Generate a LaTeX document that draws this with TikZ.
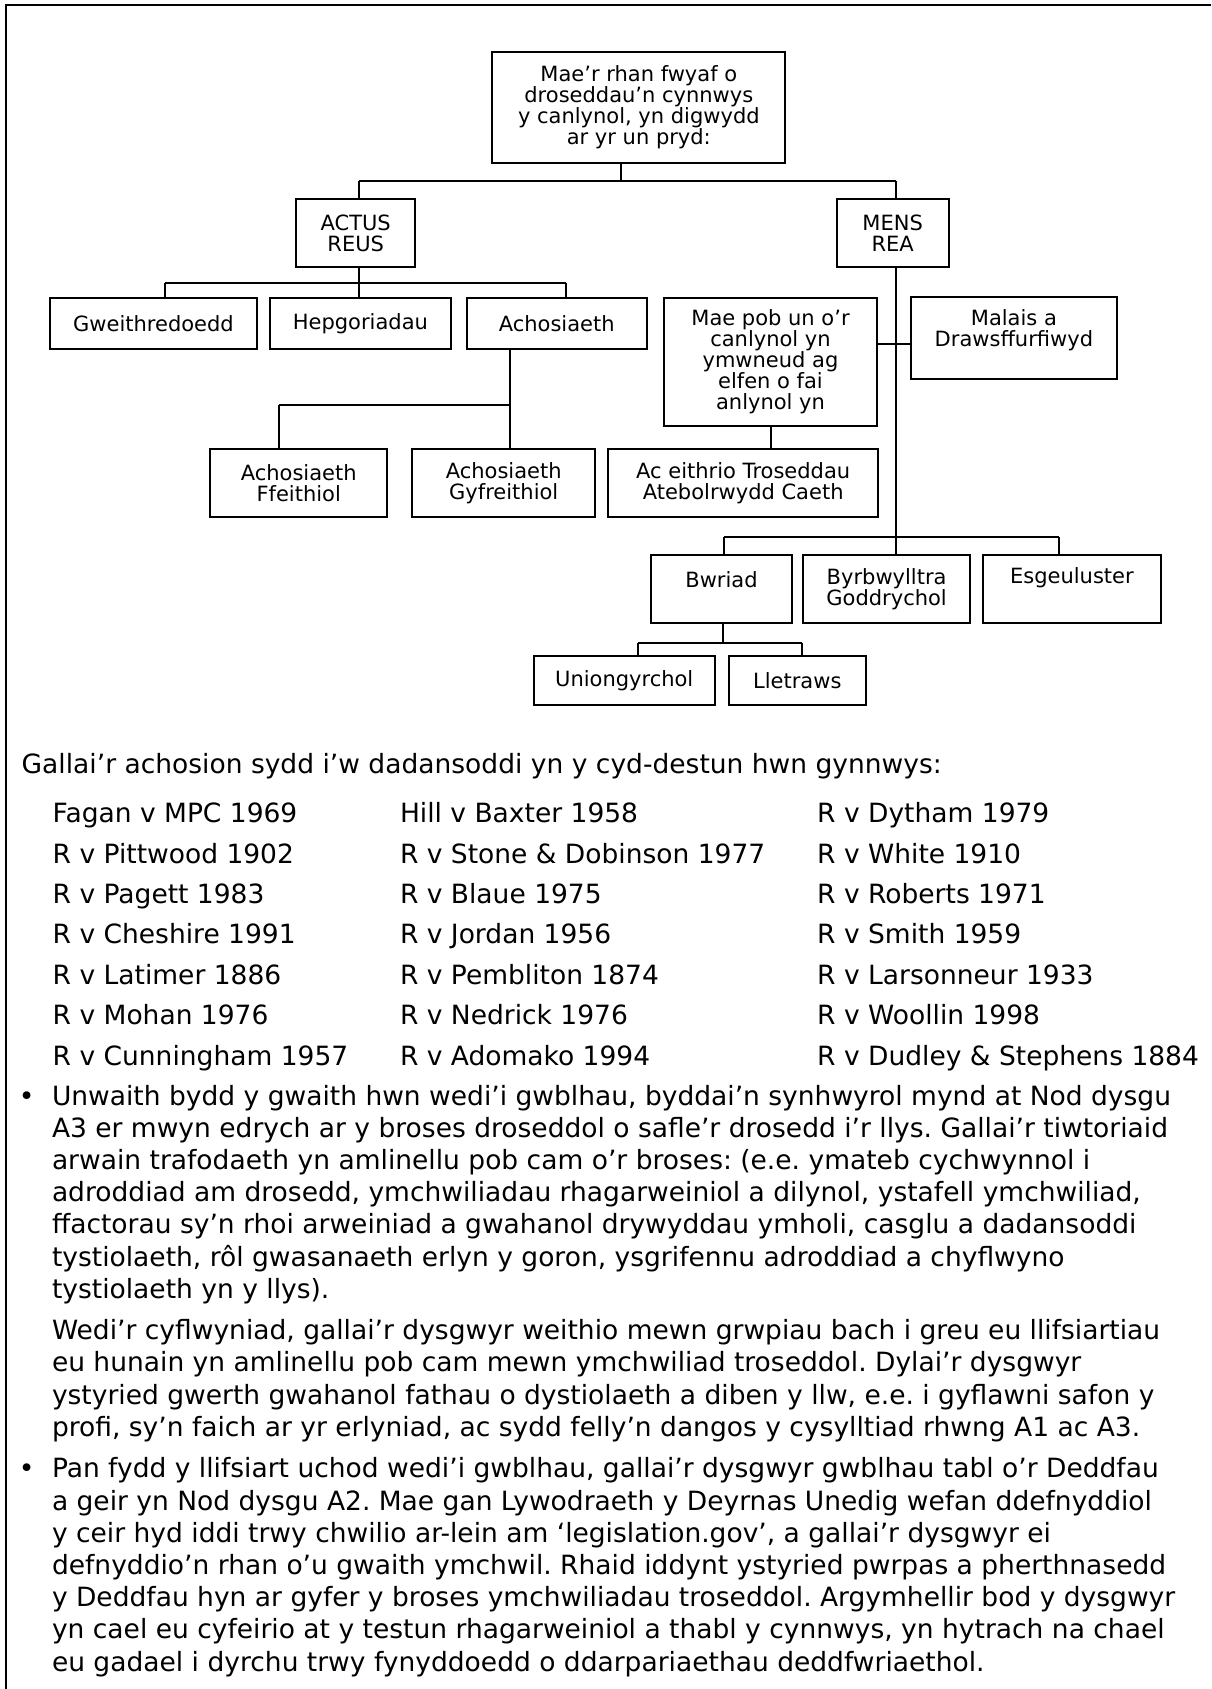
\documentclass[tikz,border=0pt]{standalone}
\usepackage{fontspec}
\setmainfont{DejaVu Sans}

\newcommand{\chartfont}{\fontsize{21}{21}\selectfont}
\newcommand{\listfont}{\fontsize{26.5}{40.4}\selectfont\frenchspacing}
\newcommand{\parafont}{\fontsize{26.5}{32.2}\selectfont\frenchspacing}

\tikzset{every picture/.style={line width=2pt}}
\tikzset{chartbox/.style={draw, inner sep=0pt, align=center, font=\chartfont}}
\tikzset{plaintext/.style={anchor=base west, inner sep=0pt, align=left}}

\begin{document}
\begin{tikzpicture}[x=1pt,y=1pt,yscale=-1,xscale=1]

\useasboundingbox (0,0) rectangle (1211,1689);

% frame
\draw    (6,1689) -- (6,5) -- (1211,5) ;

% boxes
\draw (638.8,107.7) node [chartbox, minimum width=293, minimum height=110.7] (top) {Mae’r rhan fwyaf o\\droseddau’n cynnwys\\y canlynol, yn digwydd\\ar yr un pryd:};

\draw (355.7,232.9) node [chartbox, minimum width=118.7, minimum height=67.8] (actus) {ACTUS\\REUS};
\draw (892.7,232.9) node [chartbox, minimum width=112.2, minimum height=67.8] (mens) {MENS\\REA};

\draw (153.5,323.6) node [chartbox, minimum width=206.5, minimum height=50.5] (gweith) {Gweithredoedd};
\draw (360.4,323.6) node [chartbox, minimum width=180.4, minimum height=50.5] (hepg) {Hepgoriadau};
\draw (556.7,323.6) node [chartbox, minimum width=180.3, minimum height=50.5] (achos) {Achosiaeth};

\draw (298.7,483) node [chartbox, minimum width=176.7, minimum height=68] (ffeith) {Achosiaeth\\Ffeithiol};
\draw (503.7,483) node [chartbox, minimum width=182.7, minimum height=68] (gyfr) {Achosiaeth\\Gyfreithiol};
\draw (743.2,483) node [chartbox, minimum width=269.5, minimum height=68] (eithrio) {Ac eithrio Troseddau\\Atebolrwydd Caeth};

\draw (770.5,361.8) node [chartbox, minimum width=212.4, minimum height=128.5] (maepob) {Mae pob un o’r\\canlynol yn\\ymwneud ag\\elfen o fai\\anlynol yn};
\draw (1013.9,337.7) node [chartbox, minimum width=206.5, minimum height=82.3, text height=37, text depth=19.6] (malais) {Malais a\\Drawsffurfiwyd};

\draw (721.5,588.8) node [chartbox, minimum width=140.2, minimum height=68.5, text height=16, text depth=18.8] (bwriad) {Bwriad};
\draw (886.6,588.8) node [chartbox, minimum width=166.4, minimum height=68.5] (byrb) {Byrbwylltra\\Goddrychol};
\draw (1071.9,588.8) node [chartbox, minimum width=178.7, minimum height=68.5, text height=16, text depth=26.8] (esgeu) {Esgeuluster};

\draw (624.2,680.4) node [chartbox, minimum width=180.7, minimum height=48.2] (union) {Uniongyrchol};
\draw (797.3,680.4) node [chartbox, minimum width=137.4, minimum height=48.2] (lletr) {Lletraws};

% branch points
\coordinate (s0) at (620.7,181);
\coordinate (a0) at (359,181);
\coordinate (b0) at (896,181);
\coordinate (s1) at (359,283);
\coordinate (a1) at (165,283);
\coordinate (c1) at (566.3,283);
\coordinate (s2) at (509.6,404.7);
\coordinate (a2) at (278.7,404.7);
\coordinate (x4) at (896,344.4);
\coordinate (s4) at (896,537);
\coordinate (a4) at (724,537);
\coordinate (c4) at (1058.7,537);
\coordinate (s5) at (723,642.7);
\coordinate (a5) at (638,642.7);
\coordinate (c5) at (802,642.7);

% connectors
\draw    (s0 |- top.south) -- (s0) ;
\draw    (a0) -- (b0) ;
\draw    (a0) -- (a0 |- actus.north) ;
\draw    (b0) -- (b0 |- mens.north) ;

\draw    (s1 |- actus.south) -- (s1 |- hepg.north) ;
\draw    (a1) -- (c1) ;
\draw    (a1) -- (a1 |- gweith.north) ;
\draw    (c1) -- (c1 |- achos.north) ;

\draw    (s2 |- achos.south) -- (s2 |- gyfr.north) ;
\draw    (a2) -- (s2) ;
\draw    (a2) -- (a2 |- ffeith.north) ;

\draw    (maepob.south) -- (maepob.south |- eithrio.north) ;
\draw    (s4 |- mens.south) -- (s4 |- byrb.north) ;
\draw    (x4 -| maepob.east) -- (x4 -| malais.west) ;
\draw    (a4) -- (c4) ;
\draw    (a4) -- (a4 |- bwriad.north) ;
\draw    (c4) -- (c4 |- esgeu.north) ;

\draw    (s5 |- bwriad.south) -- (s5) ;
\draw    (a5) -- (c5) ;
\draw    (a5) -- (a5 |- union.north) ;
\draw    (c5) -- (c5 |- lletr.north) ;

% cases (base = last line)
\draw (20.7,773.3) node [plaintext, font=\listfont] (head) {Gallai’r achosion sydd i’w dadansoddi yn y cyd-destun hwn gynnwys:};

\draw (51.7,1065.1) node [plaintext, font=\listfont] (colA) {Fagan v MPC 1969\\R v Pittwood 1902\\R v Pagett 1983\\R v Cheshire 1991\\R v Latimer 1886\\R v Mohan 1976\\R v Cunningham 1957};
\draw (399,1065.1) node [plaintext, font=\listfont] (colB) {Hill v Baxter 1958\\R v Stone \& Dobinson 1977\\R v Blaue 1975\\R v Jordan 1956\\R v Pembliton 1874\\R v Nedrick 1976\\R v Adomako 1994};
\draw (816.2,1065.1) node [plaintext, font=\listfont] (colC) {R v Dytham 1979\\R v White 1910\\R v Roberts 1971\\R v Smith 1959\\R v Larsonneur 1933\\R v Woollin 1998\\R v Dudley \& Stephens 1884};

% notes
\draw (26.7,1105) node [anchor=base, inner sep=0pt, font=\parafont] (dotA) {•};
\draw (51,1298.2) node [plaintext, font=\parafont] (paraA) {Unwaith bydd y gwaith hwn wedi’i gwblhau, byddai’n synhwyrol mynd at Nod dysgu\\A3 er mwyn edrych ar y broses droseddol o safle’r drosedd i’r llys. Gallai’r tiwtoriaid\\arwain trafodaeth yn amlinellu pob cam o’r broses: (e.e. ymateb cychwynnol i\\adroddiad am drosedd, ymchwiliadau rhagarweiniol a dilynol, ystafell ymchwiliad,\\ffactorau sy’n rhoi arweiniad a gwahanol drywyddau ymholi, casglu a dadansoddi\\tystiolaeth, rôl gwasanaeth erlyn y goron, ysgrifennu adroddiad a chyflwyno\\tystiolaeth yn y llys).};

\draw (51,1436.3) node [plaintext, font=\parafont] (paraB) {Wedi’r cyflwyniad, gallai’r dysgwyr weithio mewn grwpiau bach i greu eu llifsiartiau\\eu hunain yn amlinellu pob cam mewn ymchwiliad troseddol. Dylai’r dysgwyr\\ystyried gwerth gwahanol fathau o dystiolaeth a diben y llw, e.e. i gyflawni safon y\\profi, sy’n faich ar yr erlyniad, ac sydd felly’n dangos y cysylltiad rhwng A1 ac A3.};

\draw (26.7,1477.8) node [anchor=base, inner sep=0pt, font=\parafont] (dotB) {•};
\draw (51,1671) node [plaintext, font=\parafont] (paraC) {Pan fydd y llifsiart uchod wedi’i gwblhau, gallai’r dysgwyr gwblhau tabl o’r Deddfau\\a geir yn Nod dysgu A2. Mae gan Lywodraeth y Deyrnas Unedig wefan ddefnyddiol\\y ceir hyd iddi trwy chwilio ar-lein am ‘legislation.gov’, a gallai’r dysgwyr ei\\defnyddio’n rhan o’u gwaith ymchwil. Rhaid iddynt ystyried pwrpas a pherthnasedd\\y Deddfau hyn ar gyfer y broses ymchwiliadau troseddol. Argymhellir bod y dysgwyr\\yn cael eu cyfeirio at y testun rhagarweiniol a thabl y cynnwys, yn hytrach na chael\\eu gadael i dyrchu trwy fynyddoedd o ddarpariaethau deddfwriaethol.};

\end{tikzpicture}
\end{document}
